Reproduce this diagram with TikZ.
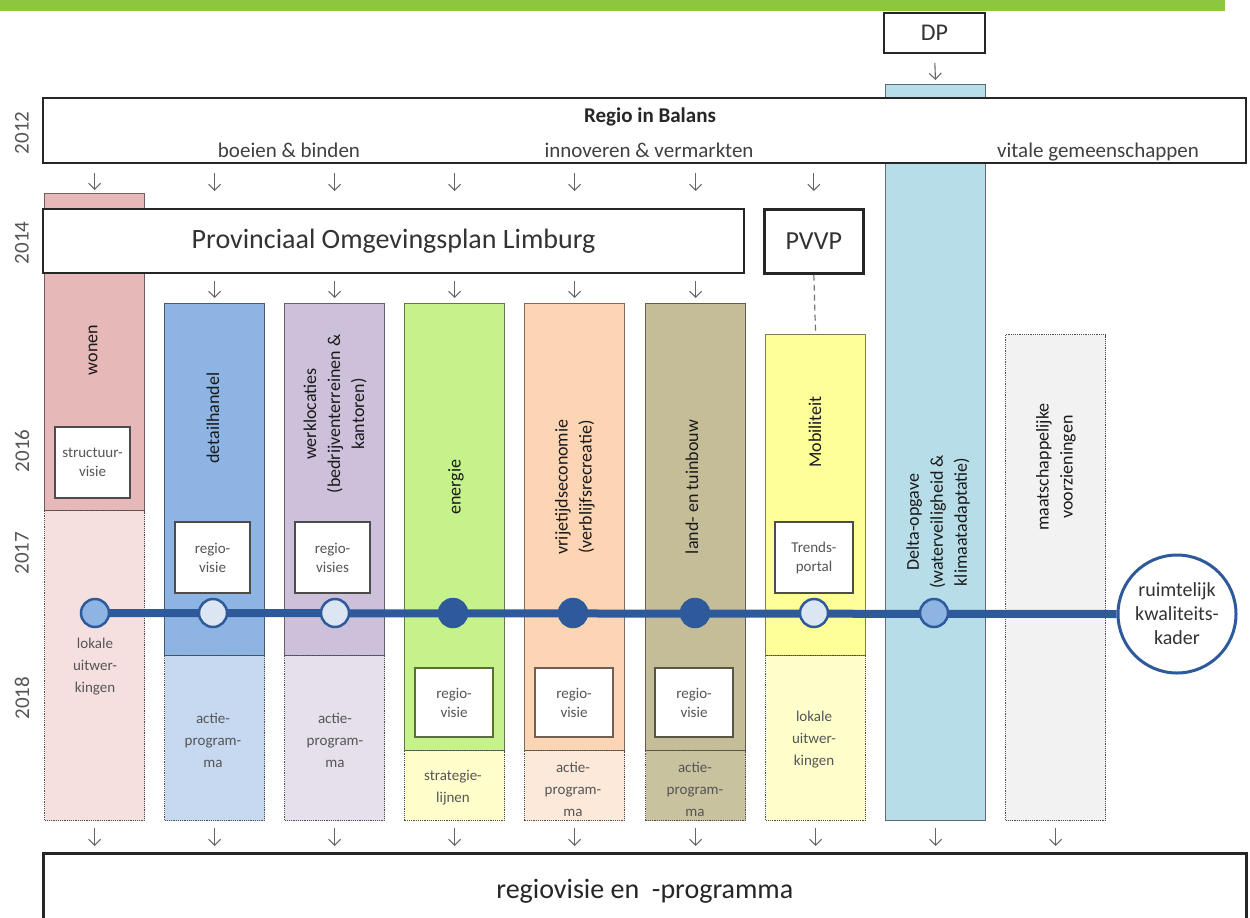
\documentclass[tikz,border=0pt]{standalone}
\usepackage{fontspec}
\setmainfont{Carlito}
\usetikzlibrary{arrows.meta}
\definecolor{hdrgreen}{HTML}{8DC63F}
\definecolor{tlblue}{HTML}{2E5A9C}
\definecolor{cwon}{HTML}{E6B8B7}\definecolor{cwonL}{HTML}{F5E0DF}
\definecolor{cdet}{HTML}{8DB4E2}\definecolor{cdetL}{HTML}{C6D9F1}
\definecolor{cwerk}{HTML}{CCC0DA}\definecolor{cwerkL}{HTML}{E5E0EC}
\definecolor{cener}{HTML}{C6F28C}\definecolor{cenerL}{HTML}{FFFFCC}
\definecolor{cvrij}{HTML}{FCD5B5}\definecolor{cvrijL}{HTML}{FDE9D9}
\definecolor{cland}{HTML}{C4BD97}\definecolor{clandL}{HTML}{C9C29F}
\definecolor{cmob}{HTML}{FFFF99}\definecolor{cmobL}{HTML}{FFFFCC}
\definecolor{cdelta}{HTML}{B7DDE8}
\definecolor{cmaat}{HTML}{F2F2F2}
\definecolor{cmid}{HTML}{8EB4E3}
\definecolor{clight}{HTML}{DCE6F2}
\definecolor{txtgray}{HTML}{555555}
\tikzset{
  colbox/.style 2 args={draw=#1!50!black, fill=#1, line width=1.2pt, anchor=north west,
    inner sep=0pt, minimum width=100pt, minimum height=#2},
  lowbox/.style 2 args={draw=black!70, densely dotted, fill=#1, line width=1.2pt, anchor=north west,
    inner sep=0pt, minimum width=100pt, minimum height=#2},
  bigbox/.style={draw=black!85, fill=white, line width=2.2pt, anchor=north west, inner sep=0pt},
  innerbox/.style={draw=black!70, fill=white, line width=1.5pt, minimum width=76pt, minimum height=70pt,
    inner sep=0pt, align=center, font=\fontsize{15}{19}\selectfont, text=txtgray},
  vlabel/.style={rotate=90, align=center, font=\fontsize{18}{24}\selectfont, text=black!90},
  lowlabel/.style={align=center, font=\fontsize{15}{22}\selectfont, text=txtgray},
  yearlbl/.style={rotate=90, font=\fontsize{21}{24}\selectfont, text=txtgray},
  subt/.style={anchor=base, font=\fontsize{21}{24}\selectfont, text=black!75},
  arr/.style={draw=black!60, line width=1.1pt, -{Straight Barb[length=6pt,width=12pt]}},
  dot/.style={circle, minimum size=28pt, inner sep=0pt, line width=2.5pt, draw=tlblue},
}
\begin{document}
\begin{tikzpicture}[x=1pt,y=-1pt]
\useasboundingbox (0,0) rectangle (1250,918);
% header strip
\fill[hdrgreen] (0,0) rectangle (1225,11);

% columns that pass behind the big boxes
\node[colbox={cwon}{317pt}] (wonT) at (44,193) {};
\node[lowbox={cwonL}{310pt}] (wonB) at (44,510) {};
\node[colbox={cdelta}{736pt}] (delta) at (885,84) {};

% big boxes
\node[bigbox, minimum width=1203pt, minimum height=65pt, line width=2pt] (regio) at (42,97) {};
\node[font=\fontsize{21}{24}\selectfont\bfseries, text=black!85] (regiot) at (650,117) {Regio in Balans};
\node[subt] (s1) at (289,157) {boeien \& binden};
\node[subt] (s2) at (649,157) {innoveren \& vermarkten};
\node[subt] (s3) at (1098,157) {vitale gemeenschappen};

\node[bigbox, minimum width=701pt, minimum height=64pt, font=\fontsize{28}{32}\selectfont, text=black!80] (poi) at (42,208) {Provinciaal Omgevingsplan Limburg};
\node[bigbox, minimum width=99pt, minimum height=64pt, line width=2.6pt, font=\fontsize{26}{30}\selectfont, text=black!80] (pvvp) at (763,208) {PVVP};
\node[bigbox, minimum width=101pt, minimum height=40pt, line width=2pt, font=\fontsize{24}{28}\selectfont, text=black!80] (dp) at (883,12) {DP};
\node[bigbox, minimum width=1203pt, minimum height=75pt, line width=2.6pt, font=\fontsize{28}{32}\selectfont, text=black!85] (rvp) at (42,852) {regiovisie en \ -programma};

% other columns
\node[colbox={cdet}{352pt}] (detT) at (164,303) {};
\node[lowbox={cdetL}{165pt}] (detB) at (164,655) {};
\node[colbox={cwerk}{352pt}] (werkT) at (284,303) {};
\node[lowbox={cwerkL}{165pt}] (werkB) at (284,655) {};
\node[colbox={cener}{447pt}] (enerT) at (404,303) {};
\node[lowbox={cenerL}{70pt}] (enerB) at (404,750) {};
\node[colbox={cvrij}{447pt}] (vrijT) at (524,303) {};
\node[lowbox={cvrijL}{70pt}] (vrijB) at (524,750) {};
\node[colbox={cland}{447pt}] (landT) at (645,303) {};
\node[lowbox={clandL}{70pt}] (landB) at (645,750) {};
\node[colbox={cmob}{321pt}] (mobT) at (765,334) {};
\node[lowbox={cmobL}{165pt}] (mobB) at (765,655) {};
\node[lowbox={cmaat}{486pt}] (maat) at (1005,334) {};

% year labels
\node[yearlbl] (y12) at (22,133) {2012};
\node[yearlbl] (y14) at (22,243) {2014};
\node[yearlbl] (y16) at (22,451) {2016};
\node[yearlbl] (y17) at (22,553) {2017};
\node[yearlbl] (y18) at (22,698) {2018};

% column labels
\node[vlabel] (lwon) at (93,350) {wonen};
\node[vlabel] (ldet) at (213,418) {detailhandel};
\node[vlabel] (lwerk) at (335,414) {werklocaties\\(bedrijventerreinen \&\\kantoren)};
\node[vlabel] (lener) at (456,487) {energie};
\node[vlabel] (lvrij) at (575,487) {vrijetijdseconomie\\(verblijfsrecreatie)};
\node[vlabel] (lland) at (692,487) {land- en tuinbouw};
\node[vlabel] (lmob) at (815,432) {Mobiliteit};
\node[vlabel] (ldelta) at (938,522) {Delta-opgave\\(waterveiligheid \&\\klimaatadaptatie)};
\node[vlabel] (lmaat) at (1056,467) {maatschappelijke\\voorzieningen};

% inner boxes
\node[innerbox, minimum width=75pt, minimum height=71pt] (struct) at (92.5,462.5) {structuur-\\visie};
\node[innerbox, minimum width=75pt, minimum height=71pt] (rvdet) at (212.5,557.5) {regio-\\visie};
\node[innerbox, minimum width=75pt, minimum height=71pt] (rvwerk) at (332.5,557.5) {regio-\\visies};
\node[innerbox, minimum width=78pt, minimum height=71pt] (trends) at (814,557.5) {Trends-\\portal};
\node[innerbox, minimum width=78pt, minimum height=69pt, draw=cener!45!black] (rvener) at (454,702.5) {regio-\\visie};
\node[innerbox, minimum width=78pt, minimum height=69pt, draw=cvrij!45!black] (rvvrij) at (574,702.5) {regio-\\visie};
\node[innerbox, minimum width=78pt, minimum height=69pt, draw=cland!45!black] (rvland) at (694,702.5) {regio-\\visie};

% lower labels
\node[lowlabel] (llwon) at (95,667) {lokale\\uitwer-\\kingen};
\node[lowlabel] (lldet) at (213,740) {actie-\\program-\\ma};
\node[lowlabel] (llwerk) at (335,740) {actie-\\program-\\ma};
\node[lowlabel] (llener) at (453,788) {strategie-\\lijnen};
\node[lowlabel] (llvrij) at (573,789) {actie-\\program-\\ma};
\node[lowlabel] (llland) at (695,789) {actie-\\program-\\ma};
\node[lowlabel] (llmob) at (814,740) {lokale\\uitwer-\\kingen};

% timeline
\node[circle, draw=tlblue, fill=white, line width=3pt, minimum size=118pt, inner sep=0pt, align=center,
  font=\fontsize{20}{24}\selectfont, text=black!80] (kader) at (1177,614) {ruimtelijk\\kwaliteits-\\kader};
\coordinate (tlstart) at (95,613);
\draw[tlblue, line width=8pt] (tlstart) -- (kader.west);
\node[dot, fill=cmid] (c1) at (95,613) {};
\node[dot, fill=clight] (c2) at (213,613) {};
\node[dot, fill=clight] (c3) at (335,613) {};
\node[dot, fill=tlblue] (c4) at (453,613) {};
\node[dot, fill=tlblue] (c5) at (573,613) {};
\node[dot, fill=tlblue] (c6) at (695,613) {};
\node[dot, fill=clight] (c7) at (814,613) {};
\node[dot, fill=cmid] (c8) at (934,613) {};

% arrows from Regio in Balans
\draw[arr, shorten <=9pt, shorten >=3pt] (regio.south -| wonT.north) -- (wonT.north);
\foreach \c in {detT, werkT, enerT, vrijT, landT}
  \draw[arr, shorten <=9pt, shorten >=17pt] (regio.south -| \c.north) -- (poi.north -| \c.north);
\draw[arr, shorten <=9pt, shorten >=17pt] (regio.south -| pvvp.north) -- (pvvp.north);
% arrows from Provinciaal Omgevingsplan
\foreach \c in {detT, werkT, enerT, vrijT, landT}
  \draw[arr, shorten <=7pt, shorten >=5pt] (poi.south -| \c.north) -- (\c.north);
% PVVP to Mobiliteit
\draw[black!55, line width=1.2pt, dash pattern=on 6pt off 4pt] (pvvp.south) -- (mobT.north);
% DP to Delta
\draw[arr, shorten <=9pt, shorten >=4pt] (dp.south) -- (delta.north);
% arrows to regiovisie en -programma
\foreach \c in {wonB, detB, werkB, enerB, vrijB, landB, mobB, delta, maat}
  \draw[arr, shorten <=7pt, shorten >=6pt] (\c.south) -- (rvp.north -| \c.south);
\end{tikzpicture}
\end{document}
